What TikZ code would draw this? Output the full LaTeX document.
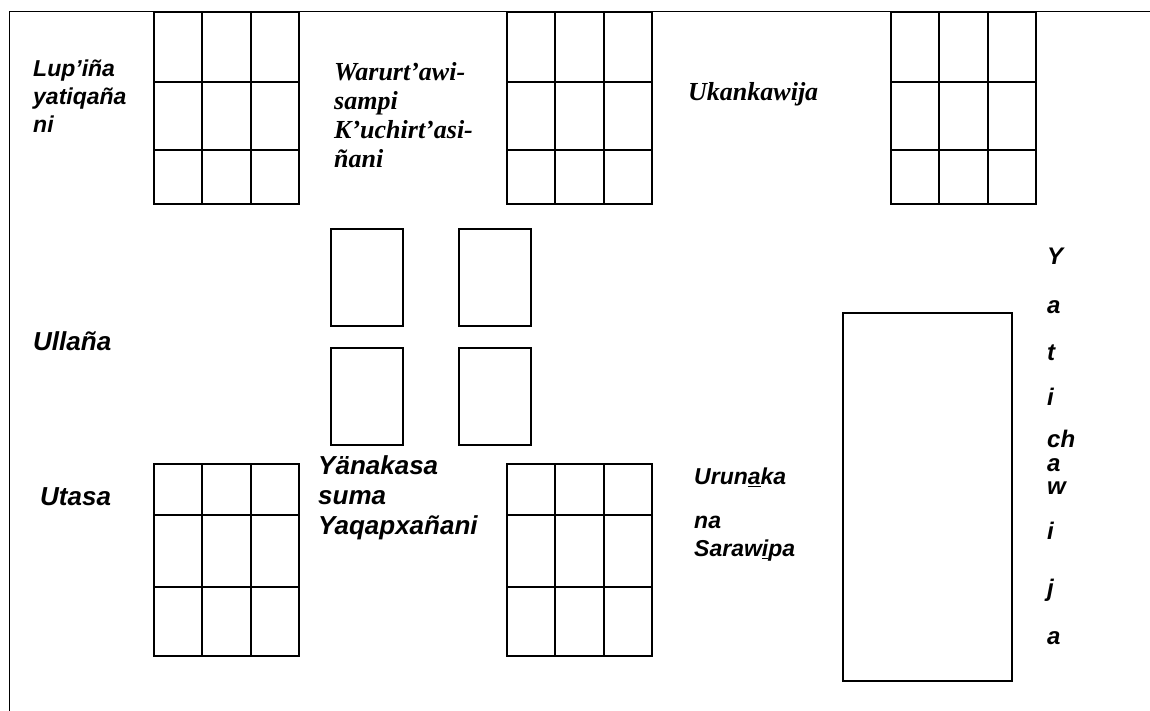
\documentclass[tikz,border=0pt]{standalone}
\usepackage{fontspec}
\setmainfont{Liberation Sans}
\newfontfamily\serifbi{Liberation Serif}
\tikzset{
  wall/.style={line width=1pt},
  bench/.style={line width=1.6pt},
  lbl/.style={inner sep=0pt,align=left,anchor=north west,
    font=\fontsize{23}{28}\selectfont\bfseries\itshape},
  biglbl/.style={lbl,font=\fontsize{26}{30}\selectfont\bfseries\itshape},
  vlbl/.style={lbl,font=\fontsize{24}{28}\selectfont\bfseries\itshape},
  slbl/.style={lbl,font=\fontsize{26}{29}\selectfont\serifbi\bfseries\itshape},
}
\begin{document}
\begin{tikzpicture}[x=1pt,y=-1pt]
  \useasboundingbox (0,0) rectangle (1150,711);
  \draw[wall] (9,711) -- (9,12) -- (1150,12);
  \foreach \xa in {154,507,891}{
    \draw[bench] (\xa,12) rectangle +(145,192);
    \draw[bench] (\xa+48,12) -- +(0,192) (\xa+97,12) -- +(0,192);
    \draw[bench] (\xa,82) -- +(145,0) (\xa,150) -- +(145,0);
  }
  \foreach \xa in {154,507}{
    \draw[bench] (\xa,464) rectangle +(145,192);
    \draw[bench] (\xa+48,464) -- +(0,192) (\xa+97,464) -- +(0,192);
    \draw[bench] (\xa,515) -- +(145,0) (\xa,587) -- +(145,0);
  }
  \foreach \xa in {331,459}
    \foreach \ya in {229,348}
      \draw[bench] (\xa,\ya) rectangle +(72,97);
  \draw[line width=1.3pt] (843,313) rectangle (1012,681);
  \node[lbl] (lupina) at (33,60) {Lup’iña\\yatiqaña\\ni};
  \node[slbl] (warurt) at (334,62) {Warurt’awi-\\sampi\\K’uchirt’asi-\\ñani};
  \node[slbl] (ukan) at (688,82) {Ukankawija};
  \node[biglbl] (ullana) at (33,331) {Ullaña};
  \node[biglbl] (utasa) at (40,487) {Utasa};
  \node[biglbl] (yanak) at (318,455) {Yänakasa\\suma\\Yaqapxañani};
  \node[lbl] (urun) at (694,468) {Urun\underline{a}ka\\[16pt]na\\Saraw\underline{i}pa};
  \foreach \lt/\yy [count=\i] in {Y/256,a/305,t/352,i/397,ch/439,a/463,w/486,i/531,j/588,a/636}
    \node[vlbl,anchor=base west] (yat\i) at (1047,\yy+8) {\lt};
\end{tikzpicture}
\end{document}
